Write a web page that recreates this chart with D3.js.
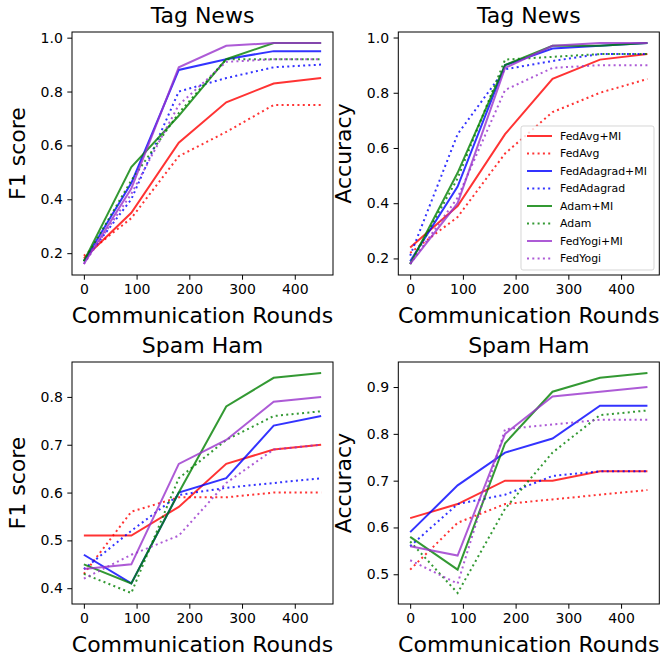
<!DOCTYPE html>
<html lang="en">
<head>
    <meta charset="utf-8">
    <title>federated learning curves</title>
    <script src="https://cdn.jsdelivr.net/npm/d3@7"></script>
    <style>
        body {
            margin: 0;
            background: white;
        }
        svg text {
            font-family: "DejaVu Sans", sans-serif;
            fill: #000;
        }
    </style>
</head>
<body>
    <svg id="canvas" width="662" height="660"></svg>
    <script>
        // ---- data ----
        const rounds = [0, 90, 180, 270, 360, 450]
        const seriesNames = ["FedAvg+MI", "FedAvg", "FedAdagrad+MI", "FedAdagrad", "Adam+MI", "Adam", "FedYogi+MI", "FedYogi"]
        const seriesColors = ["red", "red", "blue", "blue", "green", "green", "darkorchid", "darkorchid"]
        const seriesDotted = [false, true, false, true, false, true, false, true]
        const xTicks = [0, 100, 200, 300, 400]

        // Tag News, F1 score
        const tagNewsF1 = [
            [0.18, 0.35, 0.61, 0.76, 0.83, 0.85],
            [0.19, 0.33, 0.56, 0.65, 0.75, 0.75],
            [0.17, 0.46, 0.88, 0.92, 0.95, 0.95],
            [0.17, 0.40, 0.80, 0.85, 0.89, 0.90],
            [0.17, 0.52, 0.71, 0.92, 0.98, 0.98],
            [0.17, 0.47, 0.72, 0.92, 0.92, 0.92],
            [0.16, 0.44, 0.89, 0.97, 0.98, 0.98],
            [0.16, 0.42, 0.75, 0.91, 0.92, 0.92]
        ]
        // Tag News, Accuracy
        const tagNewsAcc = [
            [0.24, 0.39, 0.65, 0.85, 0.92, 0.94],
            [0.22, 0.35, 0.58, 0.73, 0.80, 0.85],
            [0.19, 0.46, 0.90, 0.96, 0.97, 0.98],
            [0.21, 0.65, 0.885, 0.915, 0.94, 0.94],
            [0.18, 0.51, 0.90, 0.97, 0.97, 0.98],
            [0.18, 0.49, 0.92, 0.93, 0.94, 0.94],
            [0.18, 0.40, 0.89, 0.97, 0.98, 0.98],
            [0.18, 0.42, 0.81, 0.89, 0.90, 0.90]
        ]
        // Spam Ham, F1 score
        const spamHamF1 = [
            [0.51, 0.51, 0.57, 0.66, 0.69, 0.70],
            [0.43, 0.56, 0.59, 0.59, 0.60, 0.60],
            [0.47, 0.41, 0.60, 0.63, 0.74, 0.76],
            [0.44, 0.52, 0.595, 0.61, 0.62, 0.63],
            [0.45, 0.41, 0.60, 0.78, 0.84, 0.85],
            [0.43, 0.39, 0.63, 0.71, 0.76, 0.77],
            [0.44, 0.45, 0.66, 0.71, 0.79, 0.80],
            [0.42, 0.47, 0.51, 0.62, 0.69, 0.70]
        ]
        // Spam Ham, Accuracy
        const spamHamAcc = [
            [0.62, 0.65, 0.70, 0.70, 0.72, 0.72],
            [0.51, 0.61, 0.65, 0.66, 0.67, 0.68],
            [0.59, 0.69, 0.76, 0.79, 0.86, 0.86],
            [0.56, 0.65, 0.67, 0.71, 0.72, 0.72],
            [0.58, 0.51, 0.78, 0.89, 0.92, 0.93],
            [0.57, 0.46, 0.64, 0.76, 0.84, 0.85],
            [0.56, 0.54, 0.80, 0.88, 0.89, 0.90],
            [0.53, 0.48, 0.81, 0.82, 0.83, 0.83]
        ]

        const panels = [
            { title: "Tag News", ylabel: "F1 score", values: tagNewsF1, yTicks: [0.2, 0.4, 0.6, 0.8, 1.0], fmt: ".1f", left: 72, top: 32, bottom: 275 },
            { title: "Tag News", ylabel: "Accuracy", values: tagNewsAcc, yTicks: [0.2, 0.4, 0.6, 0.8, 1.0], fmt: ".1f", left: 398.3, top: 32, bottom: 275, legend: true },
            { title: "Spam Ham", ylabel: "F1 score", values: spamHamF1, yTicks: [0.4, 0.5, 0.6, 0.7, 0.8], fmt: ".1f", left: 72, top: 362, bottom: 604 },
            { title: "Spam Ham", ylabel: "Accuracy", values: spamHamAcc, yTicks: [0.5, 0.6, 0.7, 0.8, 0.9], fmt: ".1f", left: 398.3, top: 362, bottom: 604 }
        ]
        const plotWidth = 261

        let svg = d3.select('svg')

        panels.forEach(p => {
            let g = svg.append('g')

            // matplotlib style 5% margins
            const all = p.values.flat()
            const lo = d3.min(all), hi = d3.max(all)
            const pad = (hi - lo) * 0.05
            const y = d3.scaleLinear().domain([lo - pad, hi + pad]).range([p.bottom, p.top])
            const xPad = (d3.max(rounds) - d3.min(rounds)) * 0.05
            const x = d3.scaleLinear().domain([d3.min(rounds) - xPad, d3.max(rounds) + xPad])
                .range([p.left, p.left + plotWidth])

            // lines
            const lineGen = d3.line().x((d, i) => x(rounds[i])).y(d => y(d))
            g.selectAll()
                .data(p.values)
                .join("path")
                .attr("d", lineGen)
                .attr("fill", "none")
                .attr("stroke", (d, i) => seriesColors[i])
                .attr("stroke-opacity", 0.8)
                .attr("stroke-width", 2)
                .attr("stroke-dasharray", (d, i) => seriesDotted[i] ? "2,3.3" : null)

            // frame
            g.append("rect")
                .attr("x", p.left).attr("y", p.top)
                .attr("width", plotWidth).attr("height", p.bottom - p.top)
                .attr("fill", "none").attr("stroke", "black").attr("stroke-width", 1)

            // axes
            const xAxis = g.append("g")
                .attr("transform", `translate(0,${p.bottom})`)
                .call(d3.axisBottom(x).tickValues(xTicks).tickSize(4.7).tickPadding(4))
            const yAxis = g.append("g")
                .attr("transform", `translate(${p.left},0)`)
                .call(d3.axisLeft(y).tickValues(p.yTicks).tickFormat(d3.format(p.fmt)).tickSize(4.7).tickPadding(4.5))
            for (const ax of [xAxis, yAxis]) {
                ax.select(".domain").remove()
                ax.selectAll("text").attr("font-size", "14px").attr("fill", "black")
                    .attr("font-family", "DejaVu Sans, sans-serif")
                ax.selectAll("line").attr("stroke", "black")
            }

            // titles and labels
            g.append("text")
                .attr("x", p.left + plotWidth / 2).attr("y", p.top - 9)
                .attr("text-anchor", "middle").attr("font-size", "22px")
                .text(p.title)
            g.append("text")
                .attr("x", p.left + plotWidth / 2).attr("y", p.bottom + 48)
                .attr("text-anchor", "middle").attr("font-size", "22px")
                .text("Communication Rounds")
            g.append("text")
                .attr("transform", `translate(${p.left - 47},${(p.top + p.bottom) / 2}) rotate(-90)`)
                .attr("text-anchor", "middle").attr("font-size", "22px")
                .text(p.ylabel)

            if (p.legend) {
                let lg = g.append("g")
                lg.append("rect")
                    .attr("x", 521).attr("y", 126).attr("width", 133).attr("height", 144)
                    .attr("rx", 2).attr("fill", "white").attr("fill-opacity", 0.8)
                    .attr("stroke", "#cccccc").attr("stroke-opacity", 0.8)
                const rowY = i => 136 + i * 17.5
                lg.selectAll("line")
                    .data(seriesNames)
                    .join("line")
                    .attr("x1", 527).attr("x2", 552)
                    .attr("y1", (d, i) => rowY(i)).attr("y2", (d, i) => rowY(i))
                    .attr("stroke", (d, i) => seriesColors[i])
                    .attr("stroke-opacity", 0.8)
                    .attr("stroke-width", 2)
                    .attr("stroke-dasharray", (d, i) => seriesDotted[i] ? "2,3.3" : null)
                lg.selectAll("text")
                    .data(seriesNames)
                    .join("text")
                    .attr("x", 560).attr("y", (d, i) => rowY(i))
                    .attr("dy", "0.36em")
                    .attr("font-size", "10.9px")
                    .text(d => d)
            }
        })
    </script>
</body>
</html>
